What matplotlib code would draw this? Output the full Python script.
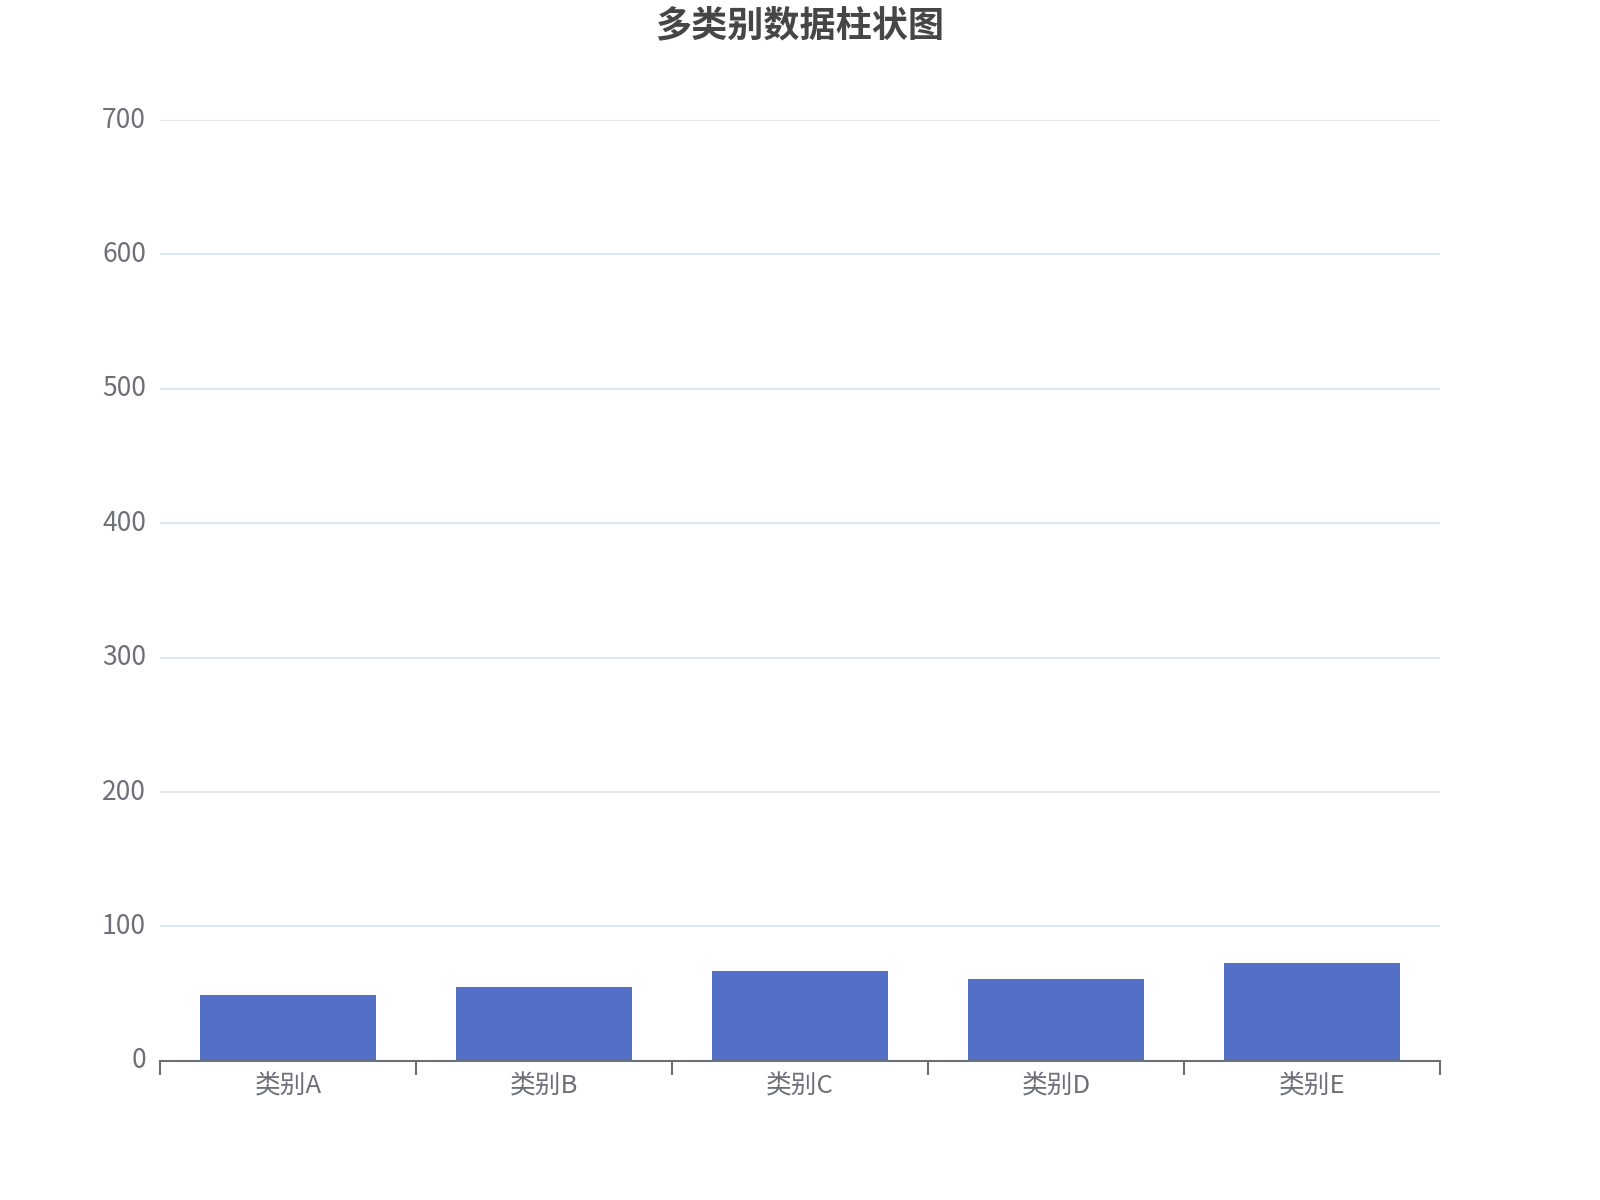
import matplotlib
matplotlib.use("Agg")
import matplotlib.pyplot as plt
import matplotlib.transforms as mtransforms
import numpy as np

plt.rcParams['font.family'] = ['Noto Sans CJK SC', 'DejaVu Sans']

title = "多类别数据柱状图"
categories = ["类别A", "类别B", "类别C", "类别D", "类别E"]
values = [49, 55, 67, 61, 73]
y_ticks = [0, 100, 200, 300, 400, 500, 600, 700]

bar_color = "#5470C6"
axis_color = "#6E7079"
grid_color = "#E0E6F1"
title_color = "#464646"

fig = plt.figure(figsize=(16, 12), dpi=100)
ax = fig.add_axes([0.1, 0.116, 0.8, 0.784])

x = np.arange(len(categories))
ax.bar(x, values, width=0.69, color=bar_color, zorder=3)

ax.set_xlim(-0.5, len(categories) - 0.5)
ax.set_ylim(0, 700)
ax.set_yticks(y_ticks)
ax.set_yticklabels([str(t) for t in y_ticks])
ax.set_xticks(x)
ax.set_xticklabels(categories)

# category boundary ticks
ax.set_xticks(np.arange(len(categories) + 1) - 0.5, minor=True)
ax.tick_params(axis='x', which='major', length=0, pad=9, labelsize=18.5, labelcolor=axis_color)
ax.tick_params(axis='x', which='minor', length=10, width=1.5, color=axis_color, direction='out')
ax.tick_params(axis='y', length=0, pad=10, labelsize=19, labelcolor=axis_color)

shift = mtransforms.ScaledTranslation(0, 3 / 100, fig.dpi_scale_trans)
for lbl in ax.get_yticklabels():
    lbl.set_transform(lbl.get_transform() + shift)

ax.grid(axis='y', color=grid_color, linewidth=1.5, zorder=0)
ax.set_axisbelow(True)

for s in ['top', 'right', 'left']:
    ax.spines[s].set_visible(False)
ax.spines['bottom'].set_color(axis_color)
ax.spines['bottom'].set_linewidth(1.5)
ax.spines['bottom'].set_zorder(4)

fig.text(0.5, 1 - 26 / 1200, title, ha='center', va='center',
         fontsize=26, fontweight='bold', color=title_color)

fig.savefig("out.png", dpi=100, facecolor='white')
